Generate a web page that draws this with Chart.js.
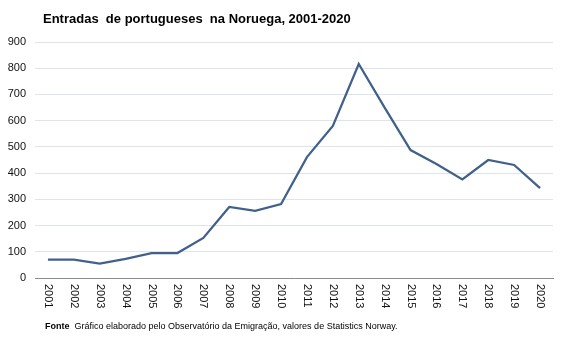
<!DOCTYPE html>
<html>
<head>
<meta charset="utf-8">
<script src="https://cdn.jsdelivr.net/npm/chart.js@4.4.0/dist/chart.umd.min.js"></script>
<style>
	html, body { margin: 0; padding: 0; background: #fff; }
	#wrap { width: 567px; height: 340px; }
</style>
</head>
<body>
<div id="wrap"><canvas id="myChart"></canvas></div>
<script>
var anos = ["2001", "2002", "2003", "2004", "2005", "2006", "2007", "2008", "2009", "2010",
	"2011", "2012", "2013", "2014", "2015", "2016", "2017", "2018", "2019", "2020"];
var entradas = [70, 70, 55, 73, 95, 95, 153, 271, 256, 282,
	461, 580, 816, 650, 488, 435, 376, 450, 431, 343];
var yTicks = [0, 100, 200, 300, 400, 500, 600, 700, 800, 900];

var fonte = "Liberation Sans, Arial, sans-serif";

// titulo, rodape e etiquetas do eixo x (rodadas no sentido horario)
var textos = {
	id: 'textos',
	afterDraw: function(chart) {
		var ctx = chart.ctx;
		var x = chart.scales.x;
		ctx.save();
		ctx.fillStyle = '#000';
		ctx.font = 'bold 13px ' + fonte;
		ctx.textBaseline = 'middle';
		ctx.textAlign = 'left';
		ctx.fillText('Entradas  de portugueses  na Noruega, 2001-2020', 43, 19);

		ctx.font = 'bold 9px ' + fonte;
		ctx.fillText('Fonte', 45, 327);
		var w = ctx.measureText('Fonte').width + 5;
		ctx.font = '9px ' + fonte;
		ctx.fillText('Gráfico elaborado pelo Observatório da Emigração, valores de Statistics Norway.', 45 + w, 327);

		ctx.font = '11px ' + fonte;
		ctx.fillStyle = '#111';
		for (var i = 0; i < anos.length; i++) {
			var px = x.getPixelForValue(i);
			ctx.save();
			ctx.translate(px, x.top + 6);
			ctx.rotate(Math.PI / 2);
			ctx.textAlign = 'left';
			ctx.textBaseline = 'middle';
			ctx.fillText(anos[i], 0, 0);
			ctx.restore();
		}
		ctx.restore();
	}
};

var ctx = document.getElementById("myChart").getContext('2d');
var myChart = new Chart(ctx, {
	type: 'line',
	data: {
		labels: anos,
		datasets: [{
			data: entradas,
			borderColor: '#41618b',
			borderWidth: 2.25,
			pointRadius: 0,
			tension: 0,
			fill: false
		}]
	},
	options: {
		responsive: true,
		maintainAspectRatio: false,
		animation: false,
		layout: {
			padding: { left: 0, right: 14, top: 42, bottom: 0 }
		},
		plugins: {
			legend: { display: false },
			title: { display: false },
			tooltip: { enabled: false }
		},
		scales: {
			x: {
				offset: true,
				grid: { display: false, drawTicks: false },
				border: { color: '#8c8c8c', width: 1 },
				ticks: { display: false },
				afterFit: function(scale) { scale.height = 62; }
			},
			y: {
				min: 0,
				max: 900,
				afterBuildTicks: function(scale) {
					scale.ticks = yTicks.map(function(v) { return { value: v }; });
				},
				grid: { color: '#dfe3ea', lineWidth: 1, drawTicks: false },
				border: { display: false },
				ticks: {
					padding: 9,
					color: '#111',
					font: { family: fonte, size: 11 }
				},
				afterFit: function(scale) { scale.width = 35; }
			}
		}
	},
	plugins: [textos]
});
</script>
</body>
</html>
